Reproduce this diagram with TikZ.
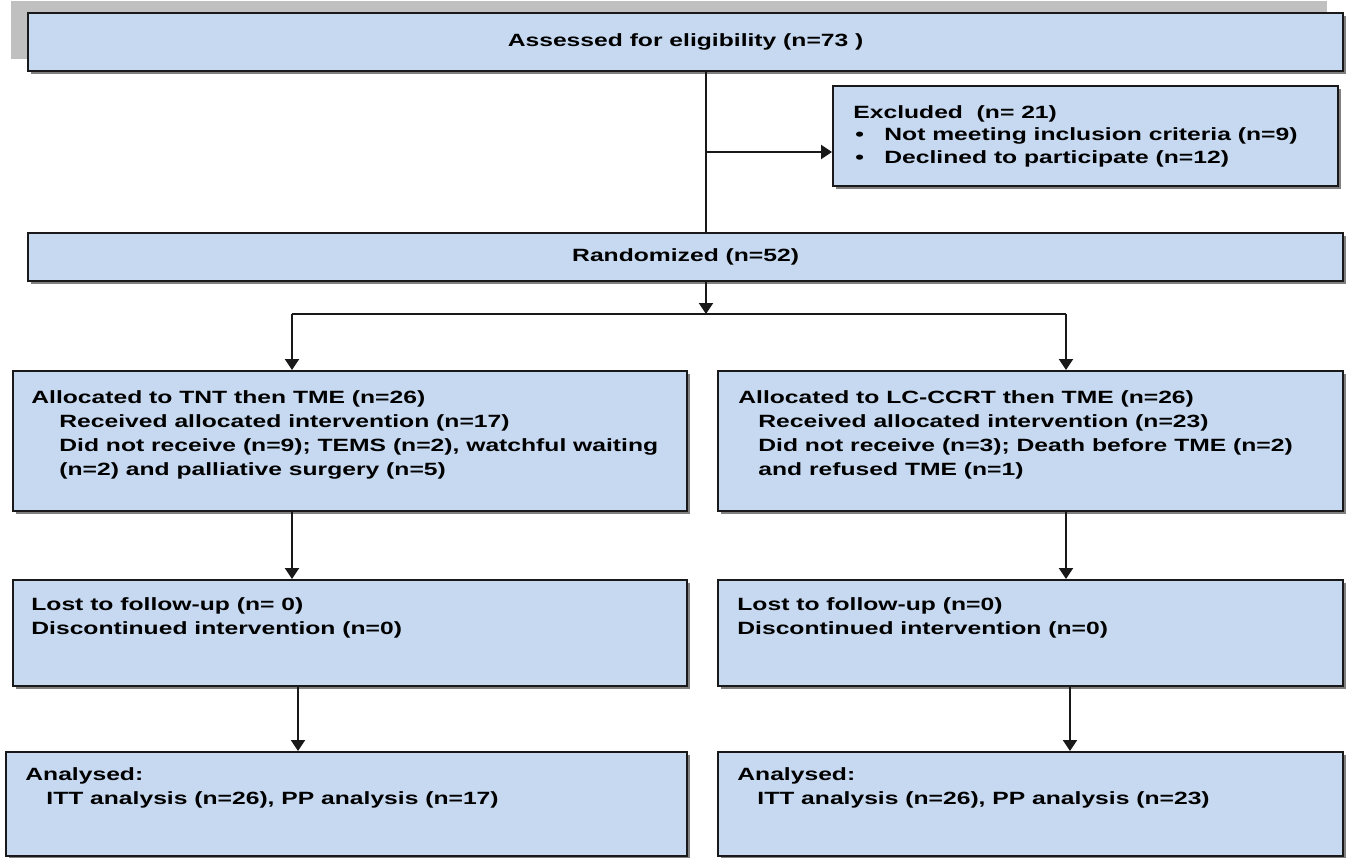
\documentclass[tikz,border=0pt]{standalone}
\usepackage{fontspec}
\setmainfont{Liberation Sans}[FakeStretch=1.39]
\usetikzlibrary{arrows.meta, positioning, shadows}
\definecolor{boxblue}{RGB}{198,217,240}
\definecolor{linedark}{RGB}{25,25,25}
\definecolor{bargray}{RGB}{192,192,192}
\tikzset{
  box/.style={rectangle, draw=linedark, fill=boxblue, line width=1.1pt,
    inner sep=0pt, anchor=north west, font=\bfseries\fontsize{8.87}{12}\selectfont,
    drop shadow={shadow xshift=1.5pt, shadow yshift=-1.5pt, fill=black!50, opacity=1}},
  boxtext/.style={anchor=north west, inner sep=0pt, align=left,
    font=\bfseries\fontsize{8.87}{12}\selectfont, text=black},
  arrow/.style={-{Triangle[width=7pt,length=5.5pt]}, line width=1pt, color=linedark},
  line/.style={line width=1pt, color=linedark}
}

\begin{document}
\begin{tikzpicture}[x=0.5pt, y=-0.5pt]
    \useasboundingbox (0,0) rectangle (1348,857);

    % Grey bar behind the top box
    \fill[bargray] (11,1) rectangle (1327,59);

    % Boxes
    \node[box, minimum width=657.5pt, minimum height=29pt] (assess) at (27,12) {Assessed for eligibility (n=73 )};
    \node[box, minimum width=252.5pt, minimum height=50pt] (excl) at (832,85) {};
    \node[box, minimum width=657.5pt, minimum height=24pt] (rand) at (27,232) {Randomized (n=52)};
    \node[box, minimum width=337pt, minimum height=70pt] (allocA) at (12,370) {};
    \node[box, minimum width=312.5pt, minimum height=70pt] (allocB) at (717,370) {};
    \node[box, minimum width=337pt, minimum height=53pt] (lostA) at (12,579) {};
    \node[box, minimum width=312.5pt, minimum height=53pt] (lostB) at (717,579) {};
    \node[box, minimum width=340.5pt, minimum height=52pt] (anaA) at (5,751) {};
    \node[box, minimum width=312.5pt, minimum height=52pt] (anaB) at (717,751) {};

    % Texts
    \node[boxtext, font=\bfseries\fontsize{8.87}{11.25}\selectfont] (excltxt) at (853,105)
      {Excluded~~(n= 21)\\
       \hspace*{1pt}\makebox[14.5pt][l]{\textbullet}Not meeting inclusion criteria (n=9)\\
       \hspace*{1pt}\makebox[14.5pt][l]{\textbullet}Declined to participate (n=12)};
    \node[boxtext] (allocAtxt) at (31,390)
      {Allocated to TNT then TME (n=26)\\
       \hspace*{14pt}Received allocated intervention (n=17)\\
       \hspace*{14pt}Did not receive (n=9); TEMS (n=2), watchful waiting\\
       \hspace*{14pt}(n=2) and palliative surgery (n=5)};
    \node[boxtext] (allocBtxt) at (738,390)
      {Allocated to LC-CCRT then TME (n=26)\\
       \hspace*{10pt}Received allocated intervention (n=23)\\
       \hspace*{10pt}Did not receive (n=3); Death before TME (n=2)\\
       \hspace*{10pt}and refused TME (n=1)};
    \node[boxtext] (lostAtxt) at (31,597)
      {Lost to follow-up (n= 0)\\
       Discontinued intervention (n=0)};
    \node[boxtext] (lostBtxt) at (737,597)
      {Lost to follow-up (n=0)\\
       Discontinued intervention (n=0)};
    \node[boxtext] (anaAtxt) at (25,767)
      {Analysed:\\
       \hspace*{10.5pt}ITT analysis (n=26), PP analysis (n=17)};
    \node[boxtext] (anaBtxt) at (737,767)
      {Analysed:\\
       \hspace*{10pt}ITT analysis (n=26), PP analysis (n=23)};

    % Connectors
    \coordinate (trunk) at (706,0);
    \coordinate (exclsplit) at (706,152);
    \coordinate (fork) at (706,314);
    \coordinate (forkA) at (292,314);
    \coordinate (forkB) at (1066,314);
    \draw[line] (assess.south -| trunk) -- (rand.north -| trunk);
    \draw[arrow] (exclsplit) -- (exclsplit -| excl.west);
    \draw[arrow] (rand.south -| trunk) -- (fork);
    \draw[line] (forkA) -- (forkB);
    \draw[arrow] (forkA) -- (forkA |- allocA.north);
    \draw[arrow] (forkB) -- (forkB |- allocB.north);
    \draw[arrow] (allocA.south -| forkA) -- (lostA.north -| forkA);
    \draw[arrow] (allocB.south -| forkB) -- (lostB.north -| forkB);
    \draw[arrow] (lostA.south -| 298,0) -- (anaA.north -| 298,0);
    \draw[arrow] (lostB.south -| 1070,0) -- (anaB.north -| 1070,0);
\end{tikzpicture}
\end{document}
